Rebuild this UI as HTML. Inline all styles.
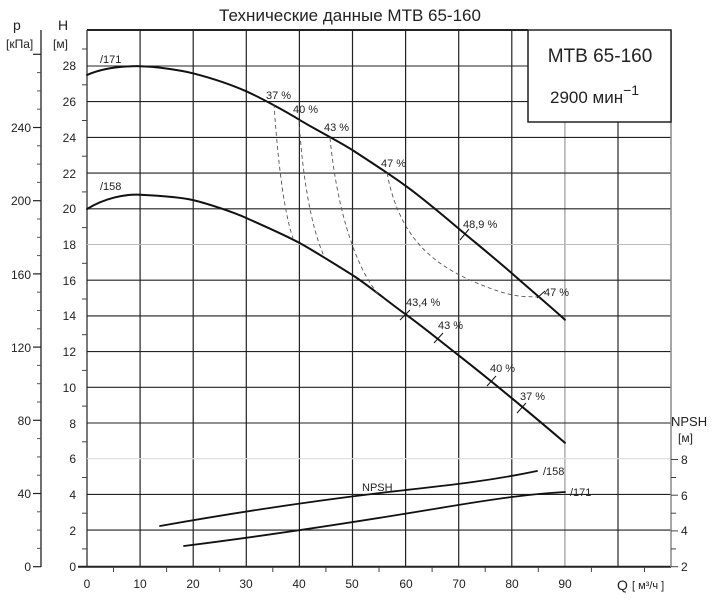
<!DOCTYPE html>
<html><head><meta charset="utf-8"><style>
body{margin:0;background:#fff}
svg{display:block}
text{font-family:"Liberation Sans","DejaVu Sans",sans-serif;fill:#222}
</style></head><body>
<svg width="720" height="600" viewBox="0 0 720 600" xmlns="http://www.w3.org/2000/svg">
<rect width="720" height="600" fill="#fff"/>
<text x="350" y="21" font-size="17" text-anchor="middle" fill="#111">Технические данные MTB 65-160</text>
<g stroke="#222" stroke-width="1.2">
<line x1="87" y1="30" x2="87" y2="567"/><line x1="140.1" y1="30" x2="140.1" y2="567"/><line x1="193.2" y1="30" x2="193.2" y2="567"/><line x1="246.3" y1="30" x2="246.3" y2="567"/><line x1="299.4" y1="30" x2="299.4" y2="567"/><line x1="352.5" y1="30" x2="352.5" y2="567"/><line x1="405.6" y1="30" x2="405.6" y2="567"/><line x1="458.7" y1="30" x2="458.7" y2="567"/><line x1="511.8" y1="30" x2="511.8" y2="567"/><line x1="564.9" y1="122" x2="564.9" y2="567" stroke="#999"/><line x1="618" y1="122" x2="618" y2="567" stroke="#555" stroke-width="1.5"/>
<line x1="87" y1="30" x2="528" y2="30" stroke-width="2"/>
</g>
<g stroke="#222" stroke-width="1.1">
<line x1="87" y1="66" x2="528" y2="66"/><line x1="87" y1="101.6" x2="671" y2="101.6"/><line x1="87" y1="137.4" x2="671" y2="137.4"/><line x1="87" y1="173.1" x2="671" y2="173.1"/><line x1="87" y1="208.8" x2="671" y2="208.8"/><line x1="87" y1="244.5" x2="671" y2="244.5" stroke="#bbb"/><line x1="87" y1="280.2" x2="671" y2="280.2"/><line x1="87" y1="315.9" x2="671" y2="315.9"/><line x1="87" y1="351.6" x2="671" y2="351.6"/><line x1="87" y1="387.3" x2="671" y2="387.3"/><line x1="87" y1="423" x2="671" y2="423"/><line x1="87" y1="458.7" x2="671" y2="458.7" stroke="#ddd"/><line x1="87" y1="494.4" x2="671" y2="494.4"/><line x1="87" y1="530.1" x2="671" y2="530.1"/>
<line x1="78" y1="566.7" x2="671" y2="566.7" stroke-width="2"/>
</g>
<line x1="671" y1="30" x2="671" y2="567" stroke="#888" stroke-width="1.5"/>
<line x1="41" y1="30" x2="41" y2="567" stroke="#222" stroke-width="1.3"/>
<g stroke="#222" stroke-width="1.2">
<line x1="33" y1="566.7" x2="41" y2="566.7"/><line x1="33" y1="493.5" x2="41" y2="493.5"/><line x1="33" y1="420.3" x2="41" y2="420.3"/><line x1="33" y1="347.1" x2="41" y2="347.1"/><line x1="33" y1="273.9" x2="41" y2="273.9"/><line x1="33" y1="200.7" x2="41" y2="200.7"/><line x1="33" y1="127.5" x2="41" y2="127.5"/><line x1="33" y1="54.3" x2="41" y2="54.3"/>
</g>
<g stroke="#555" stroke-width="1">
<line x1="37" y1="548.4" x2="41" y2="548.4"/><line x1="37" y1="530.1" x2="41" y2="530.1"/><line x1="37" y1="511.8" x2="41" y2="511.8"/>
<line x1="37" y1="475.2" x2="41" y2="475.2"/><line x1="37" y1="456.9" x2="41" y2="456.9"/><line x1="37" y1="438.6" x2="41" y2="438.6"/>
<line x1="37" y1="402" x2="41" y2="402"/><line x1="37" y1="383.7" x2="41" y2="383.7"/><line x1="37" y1="365.4" x2="41" y2="365.4"/>
<line x1="37" y1="328.8" x2="41" y2="328.8"/><line x1="37" y1="310.5" x2="41" y2="310.5"/><line x1="37" y1="292.2" x2="41" y2="292.2"/>
<line x1="37" y1="255.6" x2="41" y2="255.6"/><line x1="37" y1="237.3" x2="41" y2="237.3"/><line x1="37" y1="219" x2="41" y2="219"/>
<line x1="37" y1="182.4" x2="41" y2="182.4"/><line x1="37" y1="164.1" x2="41" y2="164.1"/><line x1="37" y1="145.8" x2="41" y2="145.8"/>
<line x1="37" y1="109.2" x2="41" y2="109.2"/><line x1="37" y1="90.9" x2="41" y2="90.9"/><line x1="37" y1="72.6" x2="41" y2="72.6"/>
</g>
<g stroke="#444" stroke-width="1">
<line x1="82" y1="548.9" x2="87" y2="548.9"/><line x1="82" y1="513.2" x2="87" y2="513.2"/><line x1="82" y1="477.5" x2="87" y2="477.5"/><line x1="82" y1="441.8" x2="87" y2="441.8"/><line x1="82" y1="406.1" x2="87" y2="406.1"/><line x1="82" y1="370.4" x2="87" y2="370.4"/><line x1="82" y1="334.7" x2="87" y2="334.7"/><line x1="82" y1="299" x2="87" y2="299"/><line x1="82" y1="263.3" x2="87" y2="263.3"/><line x1="82" y1="227.6" x2="87" y2="227.6"/><line x1="82" y1="191.9" x2="87" y2="191.9"/><line x1="82" y1="156.2" x2="87" y2="156.2"/><line x1="82" y1="120.5" x2="87" y2="120.5"/><line x1="82" y1="84.8" x2="87" y2="84.8"/><line x1="82" y1="49" x2="87" y2="49"/>
<line x1="113.5" y1="567" x2="113.5" y2="572"/><line x1="166.6" y1="567" x2="166.6" y2="572"/><line x1="219.7" y1="567" x2="219.7" y2="572"/><line x1="272.8" y1="567" x2="272.8" y2="572"/><line x1="325.9" y1="567" x2="325.9" y2="572"/><line x1="379" y1="567" x2="379" y2="572"/><line x1="432.1" y1="567" x2="432.1" y2="572"/><line x1="485.2" y1="567" x2="485.2" y2="572"/><line x1="538.3" y1="567" x2="538.3" y2="572"/><line x1="591.4" y1="567" x2="591.4" y2="572"/><line x1="644.5" y1="567" x2="644.5" y2="572"/>
<line x1="671" y1="548.9" x2="676" y2="548.9"/><line x1="671" y1="513.2" x2="676" y2="513.2"/><line x1="671" y1="477.5" x2="676" y2="477.5"/>
<line x1="671" y1="566.7" x2="678" y2="566.7"/><line x1="671" y1="530.9" x2="678" y2="530.9"/><line x1="671" y1="495.2" x2="678" y2="495.2"/><line x1="671" y1="459.5" x2="678" y2="459.5"/>
</g>
<g font-size="12" text-anchor="end">
<text x="76" y="571">0</text><text x="76" y="535">2</text><text x="76" y="499">4</text><text x="76" y="463">6</text><text x="76" y="428">8</text><text x="76" y="392">10</text><text x="76" y="356">12</text><text x="76" y="320">14</text><text x="76" y="285">16</text><text x="76" y="249">18</text><text x="76" y="213">20</text><text x="76" y="178">22</text><text x="76" y="142">24</text><text x="76" y="106">26</text><text x="76" y="70">28</text>
<text x="31" y="571">0</text><text x="31" y="498">40</text><text x="31" y="425">80</text><text x="31" y="352">120</text><text x="31" y="279">160</text><text x="31" y="205">200</text><text x="31" y="132">240</text>
</g>
<g font-size="12">
<text x="681" y="571">2</text><text x="681" y="535">4</text><text x="681" y="500">6</text><text x="681" y="464">8</text>
<text x="671" y="426" font-size="13">NPSH</text><text x="678" y="442" font-size="12">[м]</text>
<text x="13" y="30" font-size="14">p</text><text x="6" y="48" font-size="12">[кПа]</text>
<text x="58" y="30" font-size="14" fill="#666">H</text><text x="53" y="48" font-size="12">[м]</text>
</g>
<g font-size="12" text-anchor="middle">
<text x="87" y="588">0</text><text x="140" y="588">10</text><text x="193" y="588">20</text><text x="246" y="588">30</text><text x="299" y="588">40</text><text x="352" y="588">50</text><text x="406" y="588">60</text><text x="459" y="588">70</text><text x="512" y="588">80</text><text x="565" y="588">90</text>
</g>
<text x="617" y="590" font-size="14">Q</text><text x="632" y="589" font-size="11">[ м³/ч ]</text>
<rect x="528" y="30" width="143" height="92" fill="#fff" stroke="#222" stroke-width="1.5"/>
<text x="600" y="62" font-size="19" text-anchor="middle">MTB 65-160</text>
<text x="550" y="103" font-size="17">2900 мин<tspan dy="-8" font-size="14">−1</tspan></text>
<g fill="none" stroke="#111" stroke-width="2" stroke-linejoin="round" stroke-linecap="round">
<path d="M87,75 C105,67 125,66 140,66.2 S180,70 193,73.3 C215,79 232,85 246,91.2 S285,111 299.4,119.8 S340,142 352.5,150.1 S392,176 405.6,185.8 S445,217 458.7,228.6 S498,261 511.8,273.3 S551,307 564.9,319.7"/>
<path d="M87,209 C105,198 125,194 140,194.7 S180,197 193.2,200.1 S233,212 246.3,218 S285,235 299.4,242.9 S338,266 352.5,275.1 S391,304 405.6,314.3 S444,344 458.7,355.4 S497,386 511.8,398.2 S550,430 564.9,442.8"/>
<path d="M160,526 C250,510 330,499 380,493 S480,483 537,471" stroke-width="1.8"/>
<path d="M184,546 C280,534 380,518 440,508 S530,494 565,492" stroke-width="1.8"/>
</g>
<g fill="none" stroke="#555" stroke-width="0.9" stroke-dasharray="4,3">
<path d="M274,104 C277,150 283,210 293,238"/>
<path d="M299,120 C302,170 310,225 324,256"/>
<path d="M330,138 C336,200 352,262 378,294"/>
<path d="M387,173 C398,230 425,260 470,280 S525,296 541,297"/>
</g>
<g stroke="#111" stroke-width="1">
<line x1="460" y1="240" x2="469" y2="229"/><line x1="537" y1="298" x2="545" y2="291"/>
<line x1="400" y1="320" x2="410" y2="310"/><line x1="434" y1="343" x2="443" y2="333"/><line x1="487" y1="386" x2="496" y2="376"/><line x1="517" y1="413" x2="526" y2="403"/>
</g>
<g font-size="11">
<text x="100" y="63">/171</text><text x="100" y="190">/158</text>
<text x="266" y="99">37 %</text><text x="293" y="113">40 %</text><text x="324" y="131">43 %</text><text x="381" y="167">47 %</text><text x="463" y="228">48,9 %</text><text x="544" y="296">47 %</text>
<text x="406" y="306">43,4 %</text><text x="438" y="329">43 %</text><text x="490" y="372">40 %</text><text x="520" y="400">37 %</text>
<text x="362" y="491">NPSH</text><text x="543" y="475">/158</text><text x="570" y="496">/171</text>
</g>
</svg>
</body></html>
